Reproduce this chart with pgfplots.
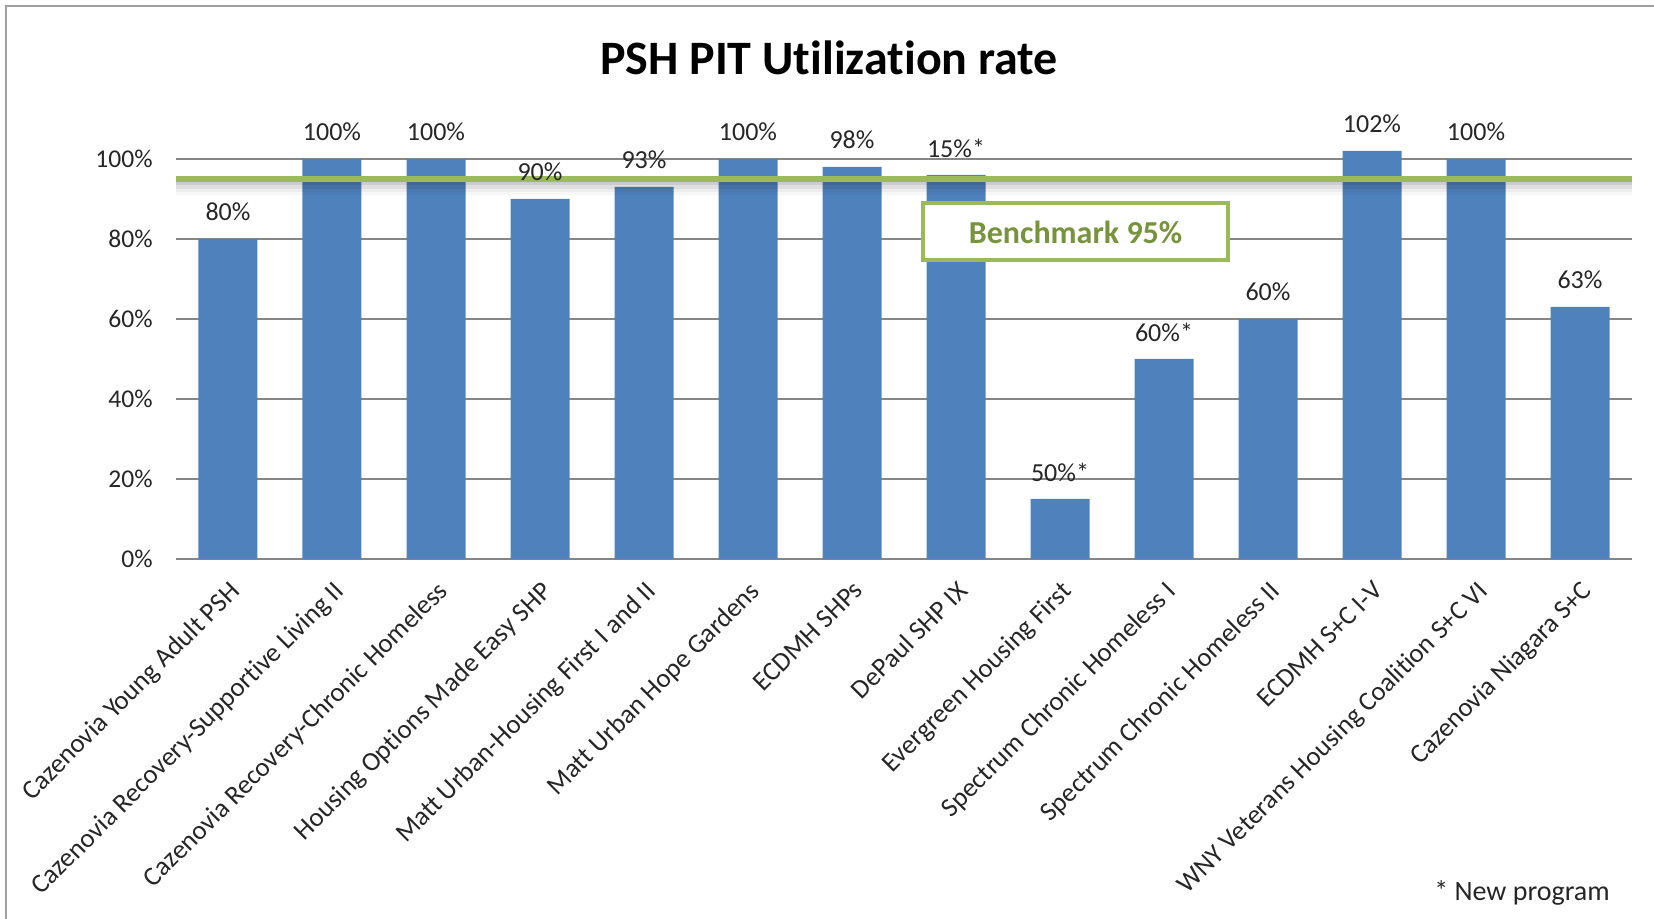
\documentclass[border=0pt]{standalone}
\usepackage{fontspec}
\setmainfont{Carlito}[Ligatures=NoCommon]
\usepackage{pgfplots}
\pgfplotsset{compat=1.18}
\definecolor{barblue}{RGB}{79,129,189}
\definecolor{benchgreen}{RGB}{155,187,89}
\definecolor{benchtext}{RGB}{119,147,60}
\definecolor{gridgray}{RGB}{134,134,134}
\definecolor{framegray}{RGB}{160,160,160}

\begin{document}
\begin{tikzpicture}
% page is 1654x919 px at 0.5pt per px; axis lower left sits at px (176,559)
\useasboundingbox (-88pt,-180pt) rectangle (739pt,279.5pt);
\draw[framegray, line width=1pt] (-85pt,-180pt) -- (-85pt,276.5pt) -- (739pt,276.5pt);
\node[font=\bfseries\fontsize{24}{28}\selectfont] at (326.5pt,250.5pt) {PSH PIT Utilization rate};
\node[font=\fontsize{14}{17}\selectfont, text=black!85] at (673pt,-167pt) {* New program};

\begin{axis}[
at={(0pt,0pt)}, anchor=south west,
scale only axis,
width=728pt, height=210pt,
xmin=-0.5, xmax=13.5,
ymin=0, ymax=105,
ybar,
clip=false,
axis x line*=bottom,
axis y line*=left,
x axis line style={draw=gridgray, line width=0.8pt},
y axis line style={draw=none},
tick style={draw=none},
major tick length=0pt,
ymajorgrids,
grid style={draw=gridgray, line width=0.8pt},
ytick={0,20,40,60,80,100},
yticklabels={0\%,20\%,40\%,60\%,80\%,100\%},
yticklabel style={font=\fontsize{12.8}{15}\selectfont, text=black!85, inner sep=0pt, anchor=east},
yticklabel shift=11.5pt,
xtick={0,1,2,3,4,5,6,7,8,9,10,11,12,13},
xticklabels={
Cazenovia Young Adult PSH,
Cazenovia Recovery-Supportive Living II,
Cazenovia Recovery-Chronic Homeless,
Housing Options Made Easy SHP,
Matt Urban-Housing First  I and II,
Matt Urban Hope Gardens,
ECDMH SHPs,
DePaul SHP IX,
Evergreen Housing First,
Spectrum Chronic Homeless I,
Spectrum Chronic Homeless II,
ECDMH S+C I-V,
WNY Veterans Housing Coalition S+C VI,
Cazenovia Niagara S+C},
xticklabel style={font=\fontsize{13.4}{15}\selectfont, text=black!85, rotate=45, anchor=north east, inner sep=0pt},
xticklabel shift=10pt,
]
\addplot[fill=barblue, draw=none, bar width=29.5pt,
  nodes near coords, point meta=explicit symbolic,
  every node near coord/.append style={anchor=center, yshift=13.5pt, font=\fontsize{13}{15}\selectfont, text=black!85}]
coordinates {
(0,80) [80\%]
(1,100) [100\%]
(2,100) [100\%]
(3,90) [90\%]
(4,93) [93\%]
(5,100) [100\%]
(6,98) [98\%]
(7,96) [15\%*]
(8,15) [50\%*]
(9,50) [60\%*]
(10,60) [60\%]
(11,102) [102\%]
(12,100) [100\%]
(13,63) [63\%]
};
% benchmark line with its soft shadow, built from fading strips
\fill[black, opacity=0.28] (axis cs:-0.5,95) rectangle (axis cs:13.5,94.2);
\fill[black, opacity=0.20] (axis cs:-0.5,94.2) rectangle (axis cs:13.5,93.4);
\fill[black, opacity=0.13] (axis cs:-0.5,93.4) rectangle (axis cs:13.5,92.6);
\fill[black, opacity=0.07] (axis cs:-0.5,92.6) rectangle (axis cs:13.5,91.8);
\fill[black, opacity=0.03] (axis cs:-0.5,91.8) rectangle (axis cs:13.5,91);
\draw[benchgreen, line width=3pt] (axis cs:-0.5,95) -- (axis cs:13.5,95);
\node[draw=benchgreen, line width=2pt, fill=white, minimum width=152.5pt, minimum height=28.5pt,
  text=benchtext, font=\bfseries\fontsize{16}{19}\selectfont] at (axis cs:8.15,81.75) {Benchmark 95\%};
\end{axis}
\end{tikzpicture}
\end{document}
